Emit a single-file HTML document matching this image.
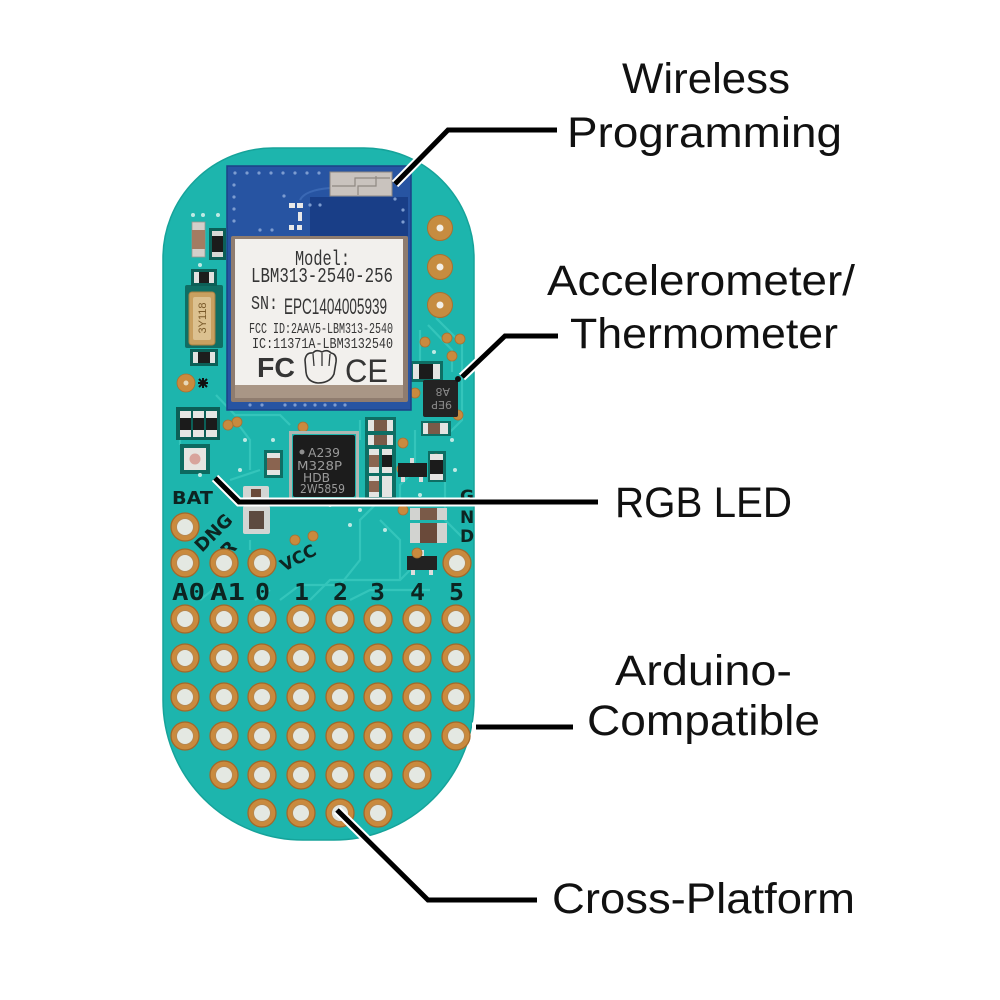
<!DOCTYPE html>
<html><head><meta charset="utf-8">
<style>html,body{margin:0;padding:0;background:#fff}svg{display:block}</style>
</head><body>
<svg width="1000" height="1000" viewBox="0 0 1000 1000" xmlns="http://www.w3.org/2000/svg">
<defs>
  <g id="pad"><circle r="14" fill="#c98a3e" stroke="#a2682a" stroke-width="1.3"/><circle r="8.5" fill="#e4e8e2" stroke="#b8884f" stroke-width="1"/></g>
  <g id="gp"><circle r="12.5" fill="#c68c40" stroke="#a87030" stroke-width="1"/><circle r="3.5" fill="#f3efe6"/></g>
  <g id="via"><circle r="5" fill="#c98a3e" stroke="#a87030" stroke-width="0.8"/></g>
</defs>
<rect width="1000" height="1000" fill="#fff"/>

<!-- Board -->
<path d="M273,148 H364 A110,110 0 0 1 474,258 V700 A140,140 0 0 1 334,840 H303 A140,140 0 0 1 163,700 V258 A110,110 0 0 1 273,148 Z" fill="#1db5ad" stroke="#16a39a" stroke-width="1.5"/>

<!-- Traces -->
<g fill="none" stroke="#37c7bd" stroke-width="2.2" opacity="0.9">
  <path d="M420,330 L420,370 M428,325 L452,350 L452,372 M436,318 L462,344 L462,420 L450,432"/>
  <path d="M415,430 L415,470 L400,485 L400,500"/>
  <path d="M180,430 L180,445 M216,395 L235,415 L280,415 L290,425"/>
  <path d="M250,540 L250,550 M280,600 L300,585 L340,585 L360,560 L360,520 L380,500"/>
  <path d="M310,600 L330,580 L400,580 L420,560 M350,600 L370,590 L430,590"/>
  <path d="M235,420 L250,440 L250,470 M360,420 L360,440 M230,480 L260,470"/>
  <path d="M380,520 L400,540 L400,580 M445,480 L445,520 L465,540"/>
  <path d="M200,600 L215,588 M255,600 L270,590"/>
</g>

<!-- Dark green component areas -->
<rect x="185" y="285" width="38" height="63" fill="#0f6e64" rx="2"/>
<rect x="209" y="228" width="17" height="32" fill="#0c5f57"/>
<rect x="191" y="269" width="26" height="17" fill="#0c5f57"/>
<rect x="190" y="349" width="28" height="17" fill="#0c5f57"/>
<rect x="176" y="407" width="44" height="33" fill="#0c5f57"/>
<rect x="180" y="444" width="30" height="30" fill="#0d6a60"/>
<rect x="365" y="417" width="31" height="31" fill="#0e6e64"/>
<rect x="365" y="446" width="31" height="54" fill="#0e6e64"/>
<rect x="428" y="451" width="18" height="31" fill="#0e6e64"/>
<rect x="411" y="361" width="32" height="21" fill="#0e6e64"/>
<rect x="421" y="421" width="30" height="15" fill="#0e6e64"/>
<rect x="264" y="450" width="19" height="28" fill="#0e6e64"/>

<!-- Left components -->
<rect x="192" y="222" width="13" height="35" fill="#d4cfca" stroke="#9a948e" stroke-width="0.8"/>
<rect x="192" y="230" width="13" height="19" fill="#a37c62"/>
<rect x="212" y="231" width="11" height="26" fill="#d8d8d6"/>
<rect x="212" y="236" width="11" height="16" fill="#1b1b1b"/>
<rect x="194" y="272" width="20" height="11" fill="#e2e2e0"/>
<rect x="199" y="272" width="10" height="11" fill="#1d1d1d"/>
<rect x="189" y="292" width="26" height="53" rx="3" fill="#c9a060" stroke="#a88040" stroke-width="1"/>
<rect x="193" y="297" width="18" height="43" rx="2" fill="#dcc190"/>
<text transform="translate(206,318) rotate(-90)" text-anchor="middle" font-family="Liberation Sans, sans-serif" font-size="11" fill="#7a5a2a">3Y118</text>
<rect x="193" y="352" width="22" height="11" fill="#e2e2e0"/>
<rect x="198" y="352" width="12" height="11" fill="#1d1d1d"/>
<circle cx="186" cy="383" r="9" fill="#c98a3e" stroke="#a87030" stroke-width="0.8"/>
<circle cx="186" cy="383" r="2.5" fill="#e8d8b8"/>
<path d="M199,379 L207,387 M207,379 L199,387 M203,378 L203,388 M198,383 L208,383" stroke="#111" stroke-width="2"/>
<g>
  <rect x="180" y="411" width="11" height="26" fill="#e6e6e4"/><rect x="180" y="418" width="11" height="12" fill="#1b1b1b"/>
  <rect x="193" y="411" width="11" height="26" fill="#e6e6e4"/><rect x="193" y="418" width="11" height="12" fill="#1b1b1b"/>
  <rect x="206" y="411" width="11" height="26" fill="#e6e6e4"/><rect x="206" y="418" width="11" height="12" fill="#1b1b1b"/>
</g>
<rect x="184" y="448" width="22" height="22" fill="#e6e4e0"/>
<circle cx="195" cy="459" r="5.5" fill="#d8a49c"/>

<!-- Vias -->
<use href="#via" x="237" y="422"/>
<use href="#via" x="425" y="342"/>
<use href="#via" x="447" y="338"/>
<use href="#via" x="460" y="339"/>
<use href="#via" x="452" y="356"/>
<use href="#via" x="415" y="393"/>
<use href="#via" x="458" y="415"/>
<use href="#via" x="403" y="443"/>
<use href="#via" x="436" y="459"/>
<use href="#via" x="303" y="427"/>
<use href="#via" x="403" y="510"/>
<use href="#via" x="295" y="540"/>
<use href="#via" x="313" y="536"/>
<use href="#via" x="228" y="425"/>
<use href="#via" x="402" y="469"/>
<g fill="#bfe9e4">
  <circle cx="360" cy="510" r="2"/><circle cx="350" cy="525" r="2"/><circle cx="330" cy="505" r="2"/>
  <circle cx="420" cy="495" r="2"/><circle cx="455" cy="470" r="2"/><circle cx="240" cy="470" r="2"/>
  <circle cx="273" cy="440" r="2"/><circle cx="245" cy="440" r="2"/><circle cx="200" cy="265" r="2"/>
  <circle cx="193" cy="215" r="2"/><circle cx="203" cy="215" r="2"/><circle cx="218" cy="215" r="2"/>
  <circle cx="426" cy="398" r="2"/><circle cx="434" cy="352" r="2"/><circle cx="448" cy="405" r="2"/>
  <circle cx="452" cy="440" r="2"/><circle cx="200" cy="475" r="2"/><circle cx="385" cy="530" r="2"/>
</g>

<!-- Right gold pads -->
<use href="#gp" x="440" y="228"/>
<use href="#gp" x="440" y="267"/>
<use href="#gp" x="440" y="305"/>

<!-- Module -->
<rect x="227" y="166" width="184" height="244" fill="#2754a2" stroke="#1b4286" stroke-width="1.5"/>
<rect x="310" y="197" width="98" height="39" fill="#193e87"/>
<path d="M300,200 Q305,190 330,188" stroke="#3a68b4" stroke-width="2" fill="none"/>
<rect x="330" y="172" width="62" height="24" fill="#c9c3be" stroke="#8e8781" stroke-width="1"/>
<path d="M332,186 H355 V178 H390 M358,195 V186 H376 V176" stroke="#8f8882" stroke-width="1.2" fill="none"/>
<g fill="#e8e8e8">
  <rect x="289" y="203" width="6" height="5"/><rect x="297" y="203" width="6" height="5"/>
  <rect x="298" y="212" width="4" height="9"/><rect x="289" y="225" width="5" height="5"/><rect x="297" y="225" width="5" height="5"/>
</g>
<g fill="#7d9cd0">
  <circle cx="235" cy="173" r="1.6"/><circle cx="247" cy="173" r="1.6"/><circle cx="259" cy="173" r="1.6"/><circle cx="271" cy="173" r="1.6"/><circle cx="283" cy="173" r="1.6"/><circle cx="295" cy="173" r="1.6"/><circle cx="307" cy="173" r="1.6"/><circle cx="319" cy="173" r="1.6"/>
  <circle cx="234" cy="185" r="1.6"/><circle cx="234" cy="197" r="1.6"/><circle cx="234" cy="209" r="1.6"/><circle cx="234" cy="221" r="1.6"/>
  <circle cx="403" cy="210" r="1.6"/><circle cx="403" cy="222" r="1.6"/><circle cx="395" cy="199" r="1.6"/>
  <circle cx="260" cy="230" r="1.6"/><circle cx="272" cy="230" r="1.6"/><circle cx="284" cy="196" r="1.6"/><circle cx="310" cy="205" r="1.6"/><circle cx="320" cy="205" r="1.6"/>
  <circle cx="250" cy="405" r="1.6"/><circle cx="262" cy="405" r="1.6"/><circle cx="285" cy="405" r="1.6"/><circle cx="295" cy="405" r="1.6"/><circle cx="305" cy="405" r="1.6"/><circle cx="315" cy="405" r="1.6"/><circle cx="325" cy="405" r="1.6"/><circle cx="335" cy="405" r="1.6"/><circle cx="345" cy="405" r="1.6"/>
</g>
<!-- Can -->
<rect x="231" y="236" width="177" height="166" rx="2" fill="#8f7c6f"/>
<rect x="235" y="239" width="168" height="148" fill="#f2f0ed"/>
<rect x="235" y="385" width="168" height="13" fill="#a99686"/>
<g fill="#353535" font-family="Liberation Mono, DejaVu Sans Mono, monospace">
  <text x="295" y="282" font-size="21" textLength="55" lengthAdjust="spacingAndGlyphs" transform="translate(0,-17)">Model:</text>
  <text x="251" y="282" font-size="21" textLength="142" lengthAdjust="spacingAndGlyphs">LBM313-2540-256</text>
  <text x="251" y="309" font-size="19" textLength="27" lengthAdjust="spacingAndGlyphs">SN:</text>
  <text x="284" y="314" font-size="22" textLength="103" lengthAdjust="spacingAndGlyphs" font-family="Liberation Sans Narrow, Liberation Sans, sans-serif">EPC1404005939</text>
  <text x="249" y="333" font-size="15" textLength="144" lengthAdjust="spacingAndGlyphs">FCC ID:2AAV5-LBM313-2540</text>
  <text x="252" y="348" font-size="15" textLength="141" lengthAdjust="spacingAndGlyphs">IC:11371A-LBM3132540</text>
  <text x="257" y="377" font-size="28" font-weight="bold" font-family="Liberation Sans, sans-serif" textLength="38" lengthAdjust="spacingAndGlyphs">FC</text>
  <text x="345" y="382" font-size="32" font-family="Liberation Sans, sans-serif" textLength="43" lengthAdjust="spacingAndGlyphs">CE</text>
</g>
<path d="M305,360 Q306,352 313,353 Q316,349 322,352 Q327,349 331,353 Q337,354 336,362 L334,374 Q330,383 318,383 Q307,382 306,372 Z" fill="none" stroke="#353535" stroke-width="1.6"/>
<path d="M313,354 L314,366 M322,353 L322,366 M330,354 L329,366" stroke="#353535" stroke-width="1.3"/>

<!-- Main chip -->
<rect x="289" y="431" width="70" height="70" fill="#aeb6b2"/>
<rect x="292" y="434" width="64" height="64" fill="#1db5ad"/>
<rect x="293" y="435" width="62" height="62" rx="2" fill="#1c1c1c"/>
<circle cx="302" cy="452" r="2.5" fill="#8e8e8e"/>
<g fill="#9a9a9a" font-family="DejaVu Sans, Liberation Sans, sans-serif" font-size="12">
  <text x="308" y="457" textLength="32" lengthAdjust="spacingAndGlyphs">A239</text>
  <text x="297" y="470" textLength="45" lengthAdjust="spacingAndGlyphs">M328P</text>
  <text x="303" y="482" textLength="27" lengthAdjust="spacingAndGlyphs">HDB</text>
  <text x="300" y="493" textLength="45" lengthAdjust="spacingAndGlyphs">2W5859</text>
</g>

<!-- Components right of chip -->
<rect x="368" y="420" width="25" height="11" fill="#e4e4e2"/><rect x="374" y="420" width="13" height="11" fill="#7a5a48"/>
<rect x="368" y="435" width="25" height="10" fill="#e4e4e2"/><rect x="374" y="435" width="13" height="10" fill="#7a5a48"/>
<rect x="369" y="449" width="10" height="24" fill="#e4e4e2"/><rect x="369" y="455" width="10" height="12" fill="#8a6450"/>
<rect x="382" y="449" width="10" height="24" fill="#e4e4e2"/><rect x="382" y="455" width="10" height="12" fill="#1b1b1b"/>
<rect x="369" y="476" width="10" height="21" fill="#e4e4e2"/><rect x="369" y="481" width="10" height="11" fill="#8a6450"/>
<rect x="382" y="476" width="10" height="21" fill="#e4e4e2"/>
<rect x="398" y="463" width="29" height="14" fill="#1e1e1e"/>
<rect x="401" y="477" width="4" height="5" fill="#ddd"/><rect x="419" y="477" width="4" height="5" fill="#ddd"/><rect x="410" y="458" width="4" height="5" fill="#ddd"/>
<rect x="430" y="454" width="13" height="26" fill="#e4e4e2"/><rect x="430" y="460" width="13" height="14" fill="#1b1b1b"/>
<rect x="267" y="453" width="13" height="22" fill="#e4e4e2"/><rect x="267" y="458" width="13" height="12" fill="#8a6450"/>
<rect x="413" y="364" width="27" height="15" fill="#e4e4e2"/><rect x="419" y="364" width="14" height="15" fill="#1b1b1b"/>
<rect x="423" y="423" width="25" height="11" fill="#e4e4e2"/><rect x="428" y="423" width="12" height="11" fill="#7a5a48"/>

<!-- Accelerometer chip -->
<rect x="423" y="380" width="35" height="37" rx="2" fill="#232323"/>
<circle cx="458" cy="379" r="3" fill="#111"/>
<g fill="#8a8a8a" font-family="DejaVu Sans, sans-serif" font-size="11" transform="rotate(180,440,398)">
  <text x="428" y="395">9EP</text><text x="430" y="408">A8</text>
</g>

<!-- Switch component -->
<rect x="243" y="486" width="26" height="14" rx="2" fill="#d2d5d3"/>
<rect x="251" y="489" width="10" height="8" fill="#6a4a3a"/>
<rect x="243" y="506" width="27" height="28" rx="2" fill="#d2d5d3"/>
<rect x="249" y="511" width="15" height="18" fill="#5d4a40"/>

<!-- GND side components -->
<rect x="410" y="508" width="37" height="12" fill="#d2d3d0"/><rect x="420" y="508" width="17" height="12" fill="#7a5a48"/>
<rect x="410" y="523" width="37" height="20" fill="#d2d3d0"/><rect x="420" y="523" width="17" height="20" fill="#6a4a3a"/>
<rect x="407" y="556" width="30" height="14" fill="#222"/>
<rect x="420" y="550" width="4" height="6" fill="#ddd"/><rect x="411" y="570" width="4" height="5" fill="#ddd"/><rect x="429" y="570" width="4" height="5" fill="#ddd"/>
<use href="#via" x="417" y="553"/>

<!-- Silkscreen labels -->
<g fill="#0d2421" font-family="DejaVu Sans, Liberation Sans, sans-serif" font-weight="bold">
  <text x="172" y="504" font-size="18" textLength="41" lengthAdjust="spacingAndGlyphs">BAT</text>
  <text x="460" y="502" font-size="17">G</text>
  <text x="460" y="523" font-size="17">N</text>
  <text x="460" y="542" font-size="17">D</text>
  <text transform="translate(202,553) rotate(-45)" font-size="18">DNG</text>
  <text transform="translate(228,558) rotate(-45)" font-size="18">R</text>
  <text transform="translate(284,572) rotate(-28)" font-size="17" textLength="38" lengthAdjust="spacingAndGlyphs">VCC</text>
</g>
<g fill="#0d2421" font-family="DejaVu Sans Mono, Liberation Mono, monospace" font-weight="bold" font-size="23">
  <text x="172" y="600" textLength="33" lengthAdjust="spacingAndGlyphs">A0</text>
  <text x="210" y="600" textLength="35" lengthAdjust="spacingAndGlyphs">A1</text>
  <text x="255" y="600" textLength="15" lengthAdjust="spacingAndGlyphs">0</text>
  <text x="294" y="600" textLength="15" lengthAdjust="spacingAndGlyphs">1</text>
  <text x="333" y="600" textLength="15" lengthAdjust="spacingAndGlyphs">2</text>
  <text x="370" y="600" textLength="15" lengthAdjust="spacingAndGlyphs">3</text>
  <text x="410" y="600" textLength="15" lengthAdjust="spacingAndGlyphs">4</text>
  <text x="449" y="600" textLength="15" lengthAdjust="spacingAndGlyphs">5</text>
</g>

<!-- Pads -->
<use href="#pad" x="185" y="527"/>
<use href="#pad" x="185" y="563"/><use href="#pad" x="224" y="563"/><use href="#pad" x="262" y="563"/><use href="#pad" x="457" y="563"/>
<g>
  <use href="#pad" x="185" y="619"/><use href="#pad" x="224" y="619"/><use href="#pad" x="262" y="619"/><use href="#pad" x="301" y="619"/><use href="#pad" x="340" y="619"/><use href="#pad" x="378" y="619"/><use href="#pad" x="417" y="619"/><use href="#pad" x="456" y="619"/>
  <use href="#pad" x="185" y="658"/><use href="#pad" x="224" y="658"/><use href="#pad" x="262" y="658"/><use href="#pad" x="301" y="658"/><use href="#pad" x="340" y="658"/><use href="#pad" x="378" y="658"/><use href="#pad" x="417" y="658"/><use href="#pad" x="456" y="658"/>
  <use href="#pad" x="185" y="697"/><use href="#pad" x="224" y="697"/><use href="#pad" x="262" y="697"/><use href="#pad" x="301" y="697"/><use href="#pad" x="340" y="697"/><use href="#pad" x="378" y="697"/><use href="#pad" x="417" y="697"/><use href="#pad" x="456" y="697"/>
  <use href="#pad" x="185" y="736"/><use href="#pad" x="224" y="736"/><use href="#pad" x="262" y="736"/><use href="#pad" x="301" y="736"/><use href="#pad" x="340" y="736"/><use href="#pad" x="378" y="736"/><use href="#pad" x="417" y="736"/><use href="#pad" x="456" y="736"/>
  <use href="#pad" x="224" y="775"/><use href="#pad" x="262" y="775"/><use href="#pad" x="301" y="775"/><use href="#pad" x="340" y="775"/><use href="#pad" x="378" y="775"/><use href="#pad" x="417" y="775"/>
  <use href="#pad" x="262" y="813"/><use href="#pad" x="301" y="813"/><use href="#pad" x="340" y="813"/><use href="#pad" x="378" y="813"/>
</g>

<!-- Connector lines (white halo + black) -->
<g fill="none" stroke-linejoin="miter" stroke-linecap="butt">
  <g stroke="#ffffff" stroke-width="9">
    <polyline points="395,184 448,130 557,130"/>
    <polyline points="462,377 505,336 558,336"/>
    <polyline points="215,478 239,502 598,502"/>
    <polyline points="472,727 573,727"/>
    <polyline points="337,810 428,900 537,900"/>
  </g>
  <g stroke="#000000" stroke-width="5">
    <polyline points="395,184 448,130 557,130"/>
    <polyline points="462,377 505,336 558,336"/>
    <polyline points="215,478 239,502 598,502"/>
    <polyline points="476,727 573,727"/>
    <polyline points="337,810 428,900 537,900"/>
  </g>
</g>

<!-- Labels -->
<g fill="#111" font-family="Liberation Sans, sans-serif" font-size="43">
  <text x="622" y="93" textLength="168" lengthAdjust="spacingAndGlyphs">Wireless</text>
  <text x="567" y="147" textLength="275" lengthAdjust="spacingAndGlyphs">Programming</text>
  <text x="547" y="295" textLength="308" lengthAdjust="spacingAndGlyphs">Accelerometer/</text>
  <text x="570" y="348" textLength="268" lengthAdjust="spacingAndGlyphs">Thermometer</text>
  <text x="615" y="517" textLength="177" lengthAdjust="spacingAndGlyphs">RGB LED</text>
  <text x="615" y="685" textLength="177" lengthAdjust="spacingAndGlyphs">Arduino-</text>
  <text x="587" y="735" textLength="233" lengthAdjust="spacingAndGlyphs">Compatible</text>
  <text x="552" y="913" textLength="303" lengthAdjust="spacingAndGlyphs">Cross-Platform</text>
</g>
</svg>
</body></html>
